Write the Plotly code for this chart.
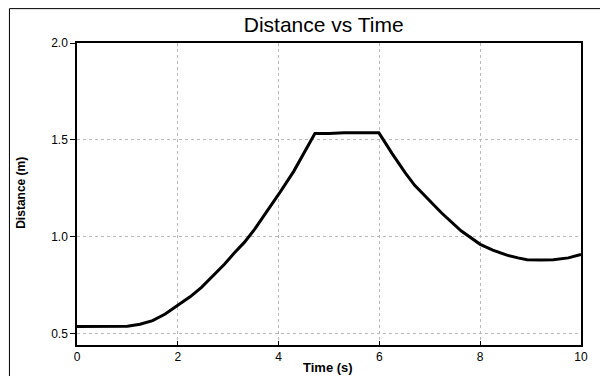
import plotly.graph_objects as go

# Data
time_s = [0.0, 0.5, 1.0, 1.25, 1.5, 1.75, 2.0, 2.25, 2.47, 2.75, 2.93, 3.12, 3.32,
          3.53, 3.78, 4.04, 4.3, 4.53, 4.72,
          5.0, 5.3, 5.6, 5.99,
          6.25, 6.51, 6.7, 6.9, 7.23, 7.62, 8.0, 8.25, 8.53, 8.75, 8.93, 9.2, 9.45, 9.75, 10.0]
distance_m = [0.535, 0.535, 0.537, 0.547, 0.566, 0.6, 0.643, 0.69, 0.738, 0.81, 0.858, 0.915, 0.97,
              1.04, 1.132, 1.234, 1.337, 1.44, 1.532,
              1.532, 1.537, 1.536, 1.536,
              1.43, 1.33, 1.265, 1.21, 1.123, 1.03, 0.96, 0.93, 0.904, 0.89, 0.881, 0.879, 0.88, 0.89, 0.908]

x_ticks = [0, 2, 4, 6, 8, 10]
x_tick_labels = ["0", "2", "4", "6", "8", "10"]
y_ticks = [0.5, 1.0, 1.5, 2.0]
y_tick_labels = ["0.5", "1.0", "1.5", "2.0"]

W, H = 600, 376
ML, MR, MT, MB = 77, 12, 43, 30
PW, PH = W - ML - MR, H - MT - MB

fig = go.Figure()
fig.add_trace(go.Scatter(
    x=time_s, y=distance_m, mode="lines",
    line=dict(color="black", width=3),
    showlegend=False,
))

font_family = "Liberation Sans, Arial, sans-serif"

fig.update_layout(
    width=W, height=H,
    margin=dict(l=ML, r=MR, t=MT, b=MB, pad=0),
    paper_bgcolor="white", plot_bgcolor="white",
    font=dict(family=font_family, color="black", size=12),
    title=dict(text="Distance vs Time", x=323.7 / W, xanchor="center",
               y=1 - 25 / H, yanchor="middle", yref="container",
               font=dict(size=21, family=font_family, color="black")),
    xaxis=dict(range=[0, 10], tickvals=x_ticks, ticktext=x_tick_labels,
               ticks="inside", ticklen=4, tickcolor="black",
               showline=True, linecolor="black", linewidth=1.5, mirror=True,
               showgrid=True, gridcolor="#b8b8b8", griddash="dot", gridwidth=1,
               zeroline=False, tickfont=dict(size=12)),
    yaxis=dict(range=[0.44, 2.0], tickvals=y_ticks, ticktext=y_tick_labels,
               ticks="outside", ticklen=5, tickcolor="black",
               showline=True, linecolor="black", linewidth=1.5, mirror=True,
               showgrid=True, gridcolor="#b8b8b8", griddash="dot", gridwidth=1,
               zeroline=False, tickfont=dict(size=12)),
)

# Axis titles as annotations (pixel-placed)
fig.add_annotation(text="<b>Time (s)</b>", xref="paper", yref="paper",
                   x=(331.7 - ML) / PW, y=(H - MB - 368.5) / PH,
                   xanchor="center", yanchor="middle", showarrow=False,
                   font=dict(size=13, family=font_family, color="black"))
fig.add_annotation(text="<b>Distance (m)</b>", xref="paper", yref="paper",
                   x=(19.5 - ML) / PW, y=(H - MB - 193) / PH, textangle=-90,
                   xanchor="center", yanchor="middle", showarrow=False,
                   font=dict(size=12, family=font_family, color="black"))

# Outer frame around the whole chart
fig.add_shape(type="rect", xref="paper", yref="paper",
              x0=(8.5 - ML) / PW, x1=(W + 10 - ML) / PW,
              y0=(H - MB - (H + 10)) / PH, y1=(H - MB - 8.5) / PH,
              line=dict(color="black", width=1), layer="below")

fig.write_html("out.html")
